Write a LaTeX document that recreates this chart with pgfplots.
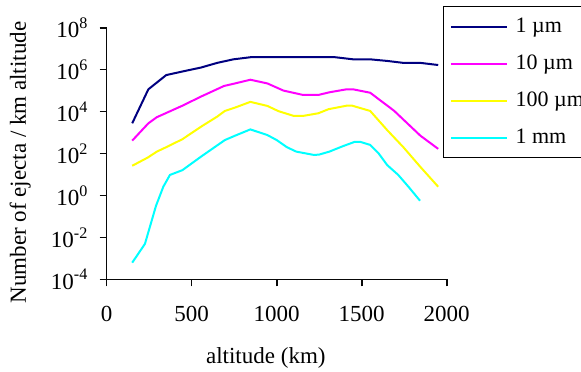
\documentclass[border=0pt]{standalone}
\usepackage{fontspec}
\setmainfont{Liberation Serif}
\usepackage{pgfplots}
\pgfplotsset{compat=1.18}
\definecolor{cnavy}{RGB}{0,0,128}
\definecolor{cmag}{RGB}{255,0,255}
\definecolor{cyel}{RGB}{255,255,0}
\definecolor{ccyan}{RGB}{0,255,255}
\definecolor{axk}{RGB}{8,8,8}
\begin{document}
\fontsize{23}{27}\selectfont
\begin{tikzpicture}
\useasboundingbox (-106.7pt,-92.7pt) rectangle (474.3pt,279.3pt);
\begin{axis}[
  scale only axis, width=340pt, height=251.6pt,
  xmin=0, xmax=2000, ymode=log, ymin=1e-4, ymax=1e8,
  clip=false,
  axis x line*=bottom, axis y line*=left,
  axis line style={axk, line width=1.6pt},
  tick style={axk, line width=1.6pt},
  tick align=outside, major tick length=7pt,
  xtick={0,500,1000,1500,2000},
  ytick={1e-4,1e-2,1,1e2,1e4,1e6,1e8},
  yticklabels={10\textsuperscript{-4},10\textsuperscript{-2},10\textsuperscript{0},10\textsuperscript{2},10\textsuperscript{4},10\textsuperscript{6},10\textsuperscript{8}},
  xticklabels={0,500,1000,1500,2000},
  yminorticks=false, xminorticks=false,
  xticklabel style={yshift=-12pt},
  yticklabel style={xshift=-4pt},
  xlabel={altitude (km)},
  xlabel style={at={(axis description cs:0.468,0)}, anchor=base, yshift=-83.7pt},
  ylabel={Number of ejecta / km altitude},
  ylabel style={at={(axis description cs:0,0.464)}, anchor=base, yshift=80.7pt},
  legend style={at={(0.988,1.0874)}, anchor=north west, draw=black, line width=1.6pt,
    fill=white, cells={anchor=west}, row sep=14pt, font=\fontsize{22}{26}\selectfont,
    nodes={inner ysep=0pt, inner xsep=7.7pt, text height=17pt, text depth=6pt},
    inner xsep=6.5pt, inner ysep=8.5pt},
  legend image code/.code={\draw[line width=2pt,#1] (0pt,0pt) -- (56pt,0pt);},
  every axis plot/.append style={line width=2pt},
]
\addplot[cnavy] coordinates {
(150,2.75e3) (245,1.15e5) (350,5.5e5) (450,8.3e5) (555,1.26e6) (650,2.1e6) (745,3.1e6) (845,3.9e6)
(950,3.9e6) (1050,3.9e6) (1150,3.9e6) (1250,3.9e6) (1345,3.9e6) (1450,3.1e6) (1550,3.1e6)
(1650,2.6e6) (1745,2.1e6) (1845,2.1e6) (1950,1.66e6)};
\addlegendentry{1 µm}
\addplot[cmag] coordinates {
(150,4.1e2) (245,2.75e3) (295,5.4e3) (445,1.9e4) (555,5.2e4) (690,1.66e5) (755,2.2e5) (845,3.3e5)
(945,2.2e5) (1040,1.0e5) (1155,6.2e4) (1245,6.2e4) (1310,8.3e4) (1410,1.15e5) (1450,1.15e5)
(1550,7.9e4) (1690,1.1e4) (1845,7.1e2) (1950,1.66e2)};
\addlegendentry{10 µm}
\addplot[cyel] coordinates {
(150,26) (240,63) (295,123) (350,200) (445,479) (555,1.9e3) (650,5.75e3) (695,1.07e4) (755,1.55e4)
(845,2.9e4) (945,1.86e4) (1010,1.05e4) (1100,6.2e3) (1155,6.2e3) (1245,8.3e3) (1305,1.3e4)
(1410,1.9e4) (1445,1.9e4) (1550,1.07e4) (1650,1.3e3) (1745,200) (1845,23) (1950,2.6)};
\addlegendentry{100 µm}
\addplot[ccyan] coordinates {
(150,6.2e-4) (225,4.9e-3) (290,0.32) (333,2.6) (372,9.5) (445,16) (555,71) (695,437) (755,708)
(845,1.41e3) (945,759) (1000,437) (1060,200) (1115,123) (1220,85) (1250,89) (1310,123)
(1390,224) (1460,363) (1490,363) (1550,257) (1600,100) (1650,28) (1715,9.5) (1775,2.6) (1843,0.56)};
\addlegendentry{1 mm}
\addplot[axk, line width=1.6pt, forget plot] coordinates {(0,1e8) (0,1e-4) (2000,1e-4)};
\addplot[axk, line width=1.6pt, xcomb, forget plot] coordinates {
(-41.2,1e-4) (-41.2,1e-2) (-41.2,1) (-41.2,1e2) (-41.2,1e4) (-41.2,1e6) (-41.2,1e8)};
\addplot[axk, line width=1.6pt, forget plot] coordinates {(0,1e-4) (0,4.63e-5)};
\addplot[axk, line width=1.6pt, forget plot] coordinates {(500,1e-4) (500,4.63e-5)};
\addplot[axk, line width=1.6pt, forget plot] coordinates {(1000,1e-4) (1000,4.63e-5)};
\addplot[axk, line width=1.6pt, forget plot] coordinates {(1500,1e-4) (1500,4.63e-5)};
\addplot[axk, line width=1.6pt, forget plot] coordinates {(2000,1e-4) (2000,4.63e-5)};
\end{axis}
\end{tikzpicture}
\end{document}
